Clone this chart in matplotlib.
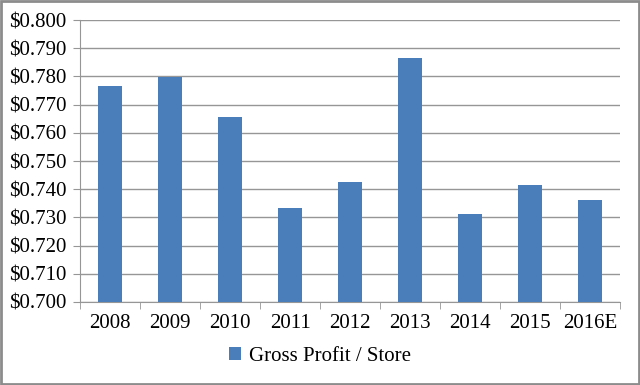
import matplotlib.pyplot as plt
import numpy as np
from matplotlib.patches import Rectangle

# ============================================================
# DATA
# ============================================================

years = ["2008", "2009", "2010", "2011", "2012", "2013", "2014", "2015", "2016E"]
gross_profit_per_store = [0.7766, 0.7797, 0.7655, 0.7332, 0.7425, 0.7866, 0.7311, 0.7414, 0.7362]
y_ticks = [0.70, 0.71, 0.72, 0.73, 0.74, 0.75, 0.76, 0.77, 0.78, 0.79, 0.80]

plt.rcParams["font.family"] = ["Liberation Serif", "DejaVu Serif"]

fig = plt.figure(figsize=(6.4, 3.85), dpi=100)
ax = fig.add_axes([0.125, 0.2156, 0.844, 0.7324])

x = np.arange(len(years))
ax.bar(x, gross_profit_per_store, width=0.39, color="#4a7ebb",
       label="Gross Profit / Store", zorder=3)

ax.set_xlim(-0.5, len(years) - 0.5)
ax.set_ylim(0.70, 0.80)
ax.set_yticks(y_ticks)
ax.set_yticklabels([f"${v:.3f}" for v in y_ticks], fontsize=15)
ax.set_xticks(x)
ax.set_xticklabels(years, fontsize=15)
ax.set_xticks(np.arange(len(years) + 1) - 0.5, minor=True)

ax.grid(axis="y", color="#969696", linewidth=1.0, zorder=0)
for side in ["top", "right"]:
    ax.spines[side].set_visible(False)
for side in ["left", "bottom"]:
    ax.spines[side].set_color("#969696")
ax.tick_params(axis="y", length=5, color="#969696", pad=5)
ax.tick_params(axis="x", which="major", length=0, pad=9)
ax.tick_params(axis="x", which="minor", length=5, color="#969696")

fig.legend(loc="center", bbox_to_anchor=(0.5, 0.075), frameon=False,
           fontsize=15, handlelength=0.55, handleheight=0.55, handletextpad=0.4)

# outer grey frame
fig.patches.append(Rectangle((0.002, 0.003), 0.996, 0.994, transform=fig.transFigure,
                             fill=False, edgecolor="#8c8c8c", linewidth=2))

fig.savefig("out.png", dpi=100)
